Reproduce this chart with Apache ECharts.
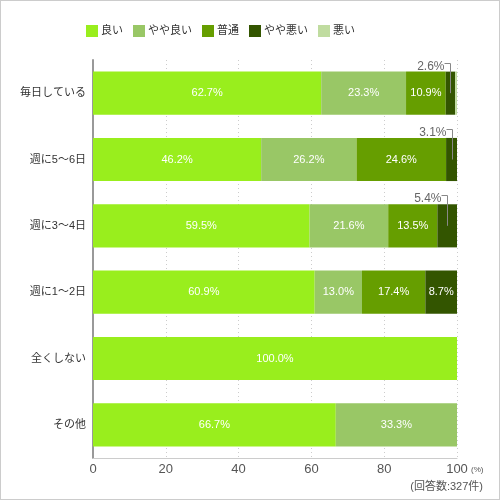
<!DOCTYPE html>
<html>
<head>
<meta charset="utf-8">
<script src="https://cdn.jsdelivr.net/npm/echarts@6/dist/echarts.min.js"></script>
<style>
html,body{margin:0;padding:0;background:#fff;}
#c{width:500px;height:500px;box-sizing:border-box;border:1px solid #cccccc;}
</style>
</head>
<body>
<div id="c"></div>
<script>
const categories = ['毎日している','週に5～6日','週に3～4日','週に1～2日','全くしない','その他'];
const seriesNames = ['良い','やや良い','普通','やや悪い','悪い'];
const good = [62.7, 46.2, 59.5, 60.9, 100.0, 66.7];
const fairlyGood = [23.3, 26.2, 21.6, 13.0, 0, 33.3];
const normal = [10.9, 24.6, 13.5, 17.4, 0, 0];
const fairlyBad = [2.6, 3.1, 5.4, 8.7, 0, 0];
const bad = [0.5, 0, 0, 0, 0, 0];
const xTicks = [0, 20, 40, 60, 80, 100];

const values = [good, fairlyGood, normal, fairlyBad, bad];
const colors = ['#99ee1d', '#99c766', '#669e00', '#335500', '#c0dca0'];
const FONT = "'Liberation Sans', Arial, 'Noto Sans CJK JP', sans-serif";
const BAR_RATIO = 0.65;

// outside labels for small segments
const outside = [];
values.forEach((arr, si) => {
  arr.forEach((v, ci) => {
    if (v >= 1 && v < 6) {
      let start = 0;
      for (let k = 0; k < si; k++) start += values[k][ci];
      outside.push([ci, start, v]);
    }
  });
});

const chart = echarts.init(document.getElementById('c'));
const series = seriesNames.map((name, i) => ({
  name: name,
  type: 'bar',
  stack: 'total',
  barCategoryGap: '35%',
  data: values[i],
  itemStyle: { color: colors[i] },
  label: {
    show: true,
    position: 'inside',
    color: '#ffffff',
    fontSize: 11,
    fontFamily: FONT,
    formatter: p => (p.value >= 6 ? p.value.toFixed(1) + '%' : '')
  },
  emphasis: { disabled: true }
}));

series.push({
  type: 'custom',
  name: 'outsideLabels',
  data: outside,
  encode: { x: 1, y: 0 },
  z: 10,
  silent: true,
  renderItem: function (params, api) {
    const cat = api.value(0), start = api.value(1), v = api.value(2);
    const p = api.coord([start + v / 2, cat]);
    const band = api.size([0, 1])[1];
    const top = p[1] - band * BAR_RATIO / 2;
    const lx = Math.round(p[0]) + 0.5;
    const ly = Math.round(top - 9) + 0.5;
    return {
      type: 'group',
      children: [
        {
          type: 'polyline',
          shape: { points: [[lx - 6, ly], [lx, ly], [lx, p[1]]] },
          style: { stroke: '#888888', lineWidth: 1, fill: null }
        },
        {
          type: 'text',
          style: {
            x: lx - 6, y: ly + 3,
            text: v.toFixed(1) + '%',
            align: 'right', verticalAlign: 'middle',
            fill: '#666666', font: '12px ' + FONT
          }
        }
      ]
    };
  }
});

chart.setOption({
  animation: false,
  textStyle: { fontFamily: FONT },
  legend: {
    data: seriesNames,
    left: 80,
    top: 19,
    itemWidth: 12,
    itemHeight: 12,
    itemGap: 10,
    icon: 'rect',
    textStyle: { fontSize: 11, color: '#333333', fontFamily: FONT, padding: [0, 0, 0, -2] },
    selectedMode: false
  },
  grid: { left: 92, right: 42, top: 59, bottom: 41, containLabel: false },
  xAxis: {
    type: 'value',
    min: 0, max: 100, interval: 20,
    axisLine: { show: true, lineStyle: { color: '#cccccc', width: 1 } },
    axisTick: { show: false },
    axisLabel: {
      color: '#555555', fontSize: 13, margin: 5, fontFamily: FONT,
      formatter: v => (xTicks.indexOf(v) >= 0 ? String(v) : '')
    },
    splitLine: { show: true, lineStyle: { color: '#cccccc', type: [1, 3], width: 1 } }
  },
  yAxis: {
    type: 'category',
    data: categories,
    inverse: true,
    axisLine: { show: true, lineStyle: { color: '#999999', width: 2 } },
    axisTick: { show: false },
    axisLabel: { color: '#333333', fontSize: 11, margin: 7, fontFamily: FONT },
    splitLine: { show: false }
  },
  graphic: [
    { type: 'text', left: 470, top: 465, style: { text: '(%)', fill: '#555555', font: '8px ' + FONT } },
    { type: 'text', right: 16, top: 480, style: { text: '(回答数:327件)', fill: '#555555', font: '11px ' + FONT } }
  ],
  series: series
});
</script>
</body>
</html>
